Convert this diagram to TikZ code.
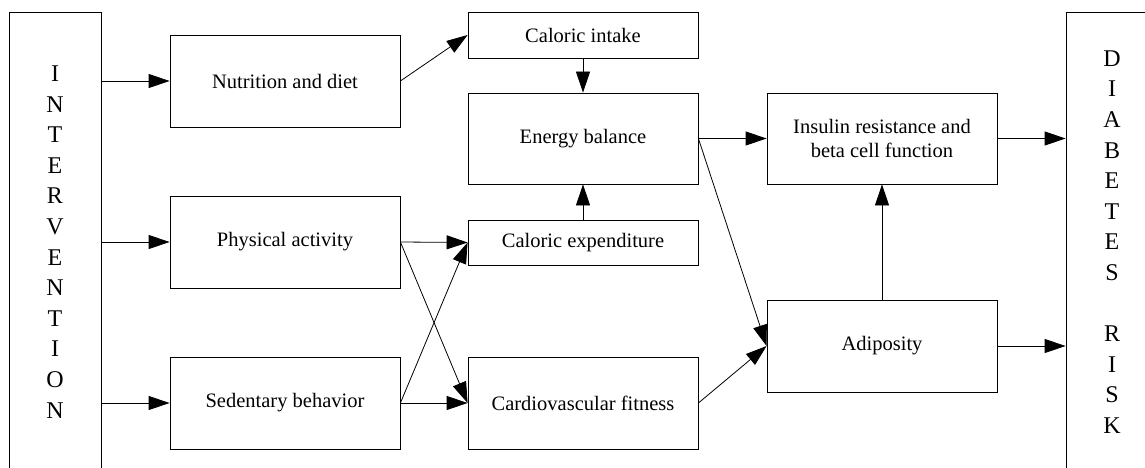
\documentclass[tikz,border=0pt]{standalone}
\usepackage{fontspec}
\setmainfont{Liberation Serif}
\usetikzlibrary{arrows.meta,positioning}

\begin{document}
\begin{tikzpicture}[x=1pt, y=-1pt, line width=0.8pt,
    box/.style={draw, rectangle, inner sep=0pt, minimum width=230pt,
    minimum height=92pt, align=center, font=\fontsize{20.5}{24.5}\selectfont},
    flat/.style={box, minimum height=46pt},
    side/.style={draw, rectangle, inner sep=0pt, minimum width=92pt,
    minimum height=460pt, align=center, font=\fontsize{24}{30.6}\selectfont},
    >={Triangle[length=21pt,width=14pt]}]
    \useasboundingbox (0,0) rectangle (1145,468);
    \clip (0,0) rectangle (1145,468);
    \node[side] (interv) at (55,242) {I\\N\\T\\E\\R\\V\\E\\N\\T\\I\\O\\N};
    \node[side] (diab) at (1112,242) {D\\I\\A\\B\\E\\T\\E\\S\\ \\R\\I\\S\\K};
    \node[box] (nut) at (285,81) {Nutrition and diet};
    \node[box] (phys) at (285,242) {Physical activity};
    \node[box] (sed) at (285,403) {Sedentary behavior};
    \node[flat] (intake) at (583,35) {Caloric intake};
    \node[box, minimum height=91pt] (energy) at (583,138.5) {Energy balance};
    \node[flat, minimum height=45pt] (expend) at (583,242.5) {Caloric expenditure};
    \node[box] (cardio) at (583,403) {Cardiovascular fitness};
    \node[box, minimum height=91pt] (insulin) at (882,138.5) {Insulin resistance and\\beta cell function};
    \node[box] (adip) at (882,346) {Adiposity};
    \draw[->] (interv.east |- nut.west) -- (nut.west);
    \draw[->] (interv.east |- phys.west) -- (phys.west);
    \draw[->] (interv.east |- sed.west) -- (sed.west);
    \draw[->] (nut.east) -- (intake.west);
    \draw[->] (intake.south) -- (energy.north);
    \draw[->] (expend.north) -- (energy.south);
    \draw[->] (phys.east) -- (expend.west);
    \draw[->] (phys.east) -- (cardio.west);
    \draw[->] (sed.east) -- (expend.west);
    \draw[->] (sed.east) -- (cardio.west);
    \draw[->] (energy.east) -- (insulin.west);
    \draw[->] (energy.east) -- (adip.west);
    \draw[->] (cardio.east) -- (adip.west);
    \draw[->] (adip.north) -- (insulin.south);
    \draw[->] (insulin.east) -- (insulin.east -| diab.west);
    \draw[->] (adip.east) -- (adip.east -| diab.west);
\end{tikzpicture}
\end{document}
